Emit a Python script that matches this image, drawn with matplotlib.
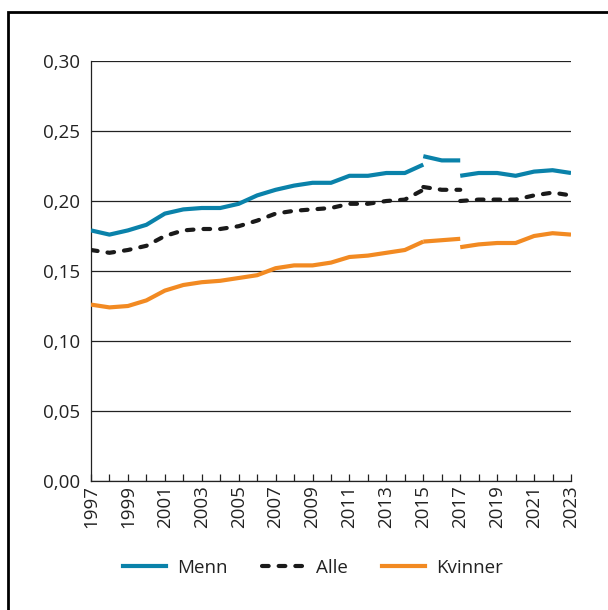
import numpy as np
import matplotlib.pyplot as plt
from matplotlib.ticker import FuncFormatter, MultipleLocator
from matplotlib.lines import Line2D
from matplotlib.patches import Rectangle

plt.rcParams['font.family'] = ['Open Sans', 'DejaVu Sans']

# three segments per series: 1997-2015, 2015-2017, 2017-2023
years_a = np.arange(1997, 2016)
years_b = np.arange(2015, 2018)
years_c = np.arange(2017, 2024)

menn_a = [0.179, 0.176, 0.179, 0.183, 0.191, 0.194, 0.195, 0.195, 0.198, 0.204,
          0.208, 0.211, 0.213, 0.213, 0.218, 0.218, 0.220, 0.220, 0.226]
menn_b = [0.232, 0.229, 0.229]
menn_c = [0.218, 0.220, 0.220, 0.218, 0.221, 0.222, 0.220]

alle_a = [0.165, 0.163, 0.165, 0.168, 0.175, 0.179, 0.180, 0.180, 0.182, 0.186,
          0.191, 0.193, 0.194, 0.195, 0.198, 0.198, 0.200, 0.201, 0.208]
alle_b = [0.210, 0.208, 0.208]
alle_c = [0.200, 0.201, 0.201, 0.201, 0.204, 0.206, 0.204]

kvinner_a = [0.126, 0.124, 0.125, 0.129, 0.136, 0.140, 0.142, 0.143, 0.145, 0.147,
             0.152, 0.154, 0.154, 0.156, 0.160, 0.161, 0.163, 0.165, 0.171]
kvinner_b = [0.171, 0.172, 0.173]
kvinner_c = [0.167, 0.169, 0.170, 0.170, 0.175, 0.177, 0.176]

blue = '#0a82aa'
orange = '#f28a22'
dark = '#1a1a1a'
dashes = (0, (1.6, 2.4))

fig = plt.figure(figsize=(6.08, 6.10), dpi=100)
ax = fig.add_axes([91/608, 129/610, 480/608, 420/610])

for xs, ys in [(years_a, menn_a), (years_b, menn_b), (years_c, menn_c)]:
    ax.plot(xs, ys, color=blue, lw=3, solid_capstyle='butt', zorder=3)
for xs, ys in [(years_a, alle_a), (years_b, alle_b), (years_c, alle_c)]:
    ax.plot(xs, ys, color=dark, lw=3, ls=dashes, dash_capstyle='round', zorder=3)
for xs, ys in [(years_a, kvinner_a), (years_b, kvinner_b), (years_c, kvinner_c)]:
    ax.plot(xs, ys, color=orange, lw=3, solid_capstyle='butt', zorder=3)

ax.set_xlim(1997, 2023)
ax.set_ylim(0, 0.30)
ax.set_yticks(np.arange(0, 0.31, 0.05))
ax.yaxis.set_major_formatter(FuncFormatter(lambda v, p: '{:.2f}'.format(v).replace('.', ',')))
ax.grid(axis='y', color='#222222', lw=0.9)
ax.set_axisbelow(True)
ax.tick_params(axis='y', length=0, labelsize=13.5, pad=8, labelcolor='#222222')

ax.set_xticks(np.arange(1997, 2024, 2))
ax.xaxis.set_minor_locator(MultipleLocator(1))
ax.tick_params(axis='x', which='both', direction='in', length=5, width=0.9,
               labelsize=13.5, labelrotation=90, pad=3, labelcolor='#222222', color='#222222')

for s in ['top', 'right']:
    ax.spines[s].set_visible(False)
for s in ['left', 'bottom']:
    ax.spines[s].set_linewidth(0.9)
    ax.spines[s].set_color('#222222')

handles = [Line2D([], [], color=blue, lw=3),
           Line2D([], [], color=dark, lw=3, ls=dashes, dash_capstyle='round'),
           Line2D([], [], color=orange, lw=3)]
fig.legend(handles, ['Menn', 'Alle', 'Kvinner'], loc='center', ncol=3,
           bbox_to_anchor=(313/608, 1 - 568/610), frameon=False, fontsize=13.5,
           handlelength=2.3, handletextpad=0.6, columnspacing=1.8,
           labelcolor='#222222')

fig.patches.append(Rectangle((8/608, -0.1), 1.2, (610 - 12)/610 + 0.1,
                             transform=fig.transFigure, fill=False,
                             edgecolor='black', lw=2))

fig.savefig('out.png', dpi=100)
